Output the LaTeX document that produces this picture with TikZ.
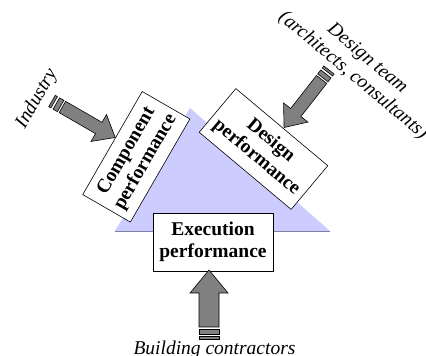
\documentclass[tikz,border=0pt]{standalone}
\usepackage{fontspec}
\setmainfont{Liberation Serif}
\definecolor{trifill}{HTML}{CCCCFF}
\definecolor{trirule}{HTML}{8080A0}
\definecolor{arrowgray}{HTML}{808080}
\begin{document}
\begin{tikzpicture}[x=1pt,y=1pt,
  perfbox/.style={draw=black, line width=0.6pt, fill=white, align=center,
    inner sep=0pt, font=\fontsize{19.5}{22}\selectfont\bfseries},
  sourcelabel/.style={align=center, inner sep=0pt,
    font=\fontsize{19.5}{22}\selectfont\itshape},
  arrowpart/.style={fill=arrowgray, draw=black, line width=0.6pt},
  % striped block arrow, tail at the origin, pointing along +x
  % #1 length, #2 shaft half width, #3 head half width, #4 head length
  pics/blockarrow/.style n args={4}{code={
    \filldraw[arrowpart] (0,-#2) rectangle (2.5,#2);
    \filldraw[arrowpart] (5,-#2) rectangle (10,#2);
    \filldraw[arrowpart] (12,-#2) -- ({#1-#4},-#2) -- ({#1-#4},-#3) -- (#1,0)
      -- ({#1-#4},#3) -- ({#1-#4},#2) -- (12,#2) -- cycle;
  }}]
\useasboundingbox (0,0) rectangle (426,356);

% the performance triangle
\fill[trifill] (115,125) -- (330,125) -- (190,248) -- cycle;
\draw[trirule, line width=0.8pt] (115,125) -- (330,125);

% performance boxes on the sides of the triangle
\node[perfbox, minimum width=120, minimum height=58] (exec) at (213,114)
  {Execution\\performance};
\node[perfbox, minimum width=119, minimum height=55, rotate=60] (comp)
  at (136.3,199.2) {Component\\performance};
\node[perfbox, minimum width=120, minimum height=57, rotate=-40] (design)
  at (263.5,207) {Design\\performance};

% parties
\node[sourcelabel, rotate=60] (industry) at (37,257) {Industry};
\node[sourcelabel, rotate=-40] (team) at (360,288.5)
  {Design team\\(architects, consultants)};
\node[sourcelabel, anchor=base] (builders) at (214.5,1.5) {Building contractors};

% block arrows from each party to its box
\coordinate (industry-tail) at (52,255);
\coordinate (team-tail) at (329,286);
\coordinate (builders-tail) at (209,17);
\pic[rotate=-30] at (industry-tail) {blockarrow={73}{6.5}{15.5}{19}};
\pic[rotate=-128] at (team-tail) {blockarrow={73}{6.5}{15.5}{19}};
\pic[rotate=90] at (builders-tail) {blockarrow={69}{10}{19}{23}};
\end{tikzpicture}
\end{document}
